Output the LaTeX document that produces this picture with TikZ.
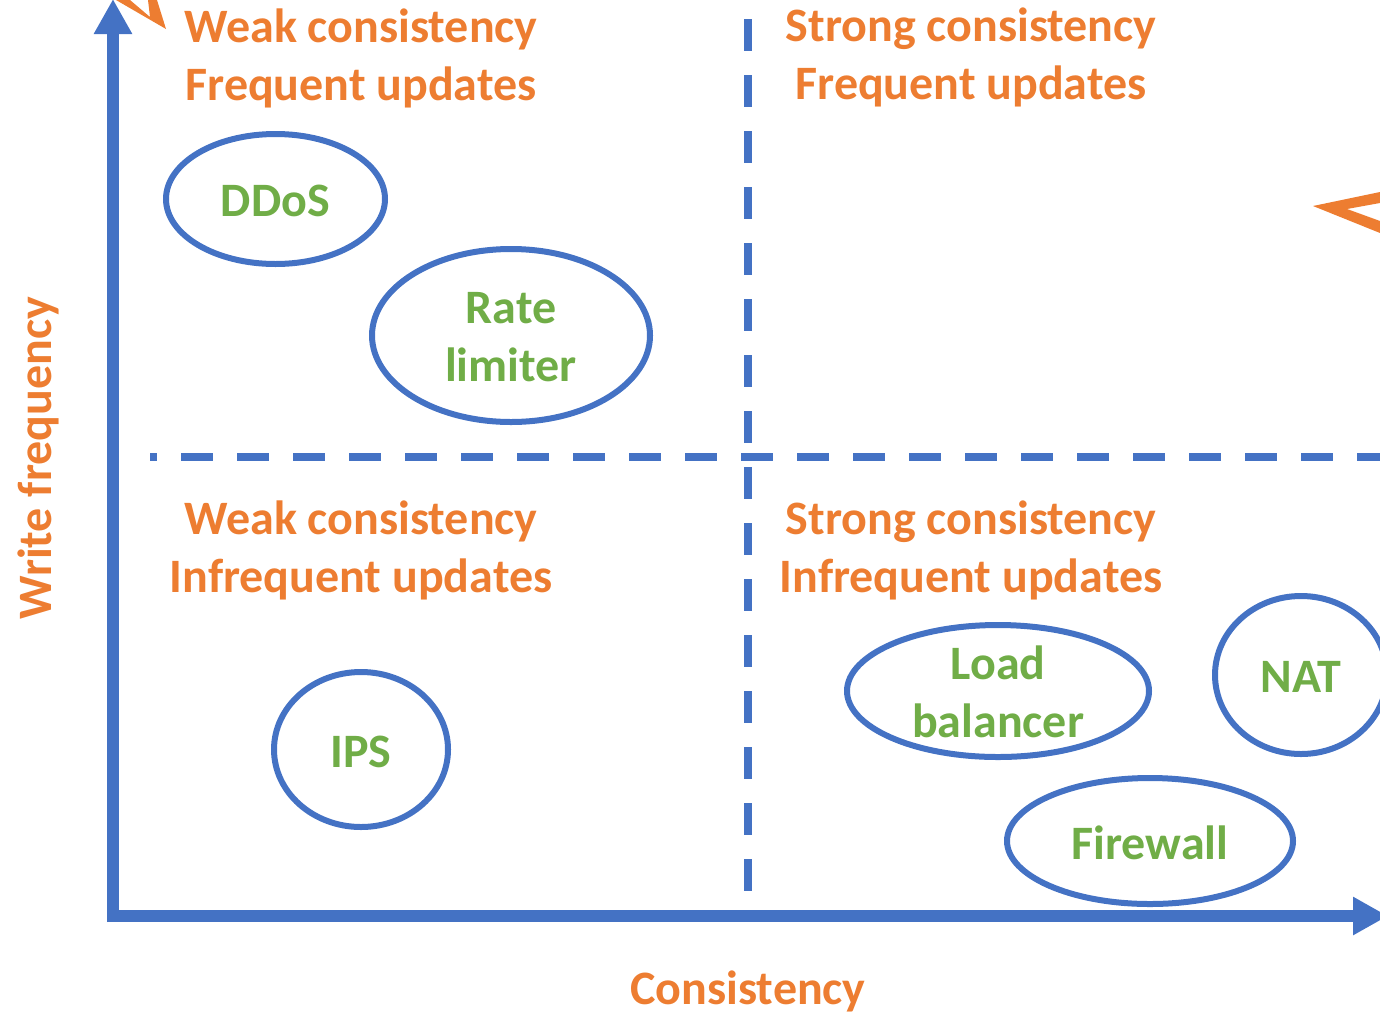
\documentclass[tikz,border=0pt]{standalone}
\usepackage{fontspec}
\setmainfont{Carlito}
\usetikzlibrary{arrows.meta,shapes.geometric}
\definecolor{axisblue}{HTML}{4472C4}
\definecolor{tagorange}{HTML}{ED7D31}
\definecolor{itemgreen}{HTML}{70AD47}

\begin{document}
\begin{tikzpicture}[x=1pt,y=-1pt,
  bigfont/.style={font=\bfseries\fontsize{48}{58}\selectfont},
  quadtitle/.style={bigfont, text=tagorange, anchor=base, inner sep=0pt},
  item/.style={draw=axisblue, line width=6pt, ellipse, inner sep=0pt},
  itemlabel/.style={bigfont, text=itemgreen, align=center, inner sep=0pt},
  divider/.style={draw=axisblue, line width=7.5pt, dash pattern=on 32pt off 24pt},
  axisline/.style={draw=axisblue, line width=12pt, -{Triangle[length=35pt,width=36pt]}},
  chevron/.style={fill=tagorange, draw=none}]

\useasboundingbox (0,0) rectangle (1380,1015);

% quadrant dividers
\coordinate (vtop) at (748,19);
\coordinate (vbot) at (748,891);
\coordinate (hleft) at (150,457);
\coordinate (hright) at (1400,457);
\draw[divider] (vtop) -- (vbot);
\draw[divider, dash phase=25pt] (hleft) -- (hright);

% axes
\coordinate (yfoot) at (113,922);
\coordinate (ytop) at (113,-1);
\coordinate (xstart) at (107,916);
\coordinate (xend) at (1388,916);
\draw[axisline] (yfoot) -- (ytop);
\draw[axisline] (xstart) -- (xend);

% axis titles
\node[quadtitle] (xtitle) at (748,1004) {Consistency};
\node[quadtitle, rotate=90] (ytitle) at (51,458) {Write frequency};

% quadrant titles
\node[quadtitle] (q1a) at (361,42) {Weak consistency};
\node[quadtitle] (q1b) at (361,100) {Frequent updates};
\node[quadtitle] (q2a) at (971,41) {Strong consistency};
\node[quadtitle] (q2b) at (971,99) {Frequent updates};
\node[quadtitle] (q3a) at (361,534) {Weak consistency};
\node[quadtitle] (q3b) at (361,592) {Infrequent updates};
\node[quadtitle] (q4a) at (971,534) {Strong consistency};
\node[quadtitle] (q4b) at (971,592) {Infrequent updates};

% network functions
\node[item, minimum width=219pt, minimum height=130pt] (ddos) at (275.5,199) {};
\node[item, minimum width=278pt, minimum height=173pt] (rate) at (511,335.5) {};
\node[item, minimum width=174pt, minimum height=155pt] (ips) at (361,749.5) {};
\node[item, minimum width=302pt, minimum height=132pt] (lb) at (998,691) {};
\node[item, minimum width=172pt, minimum height=158pt] (nat) at (1301,675) {};
\node[item, minimum width=286pt, minimum height=126pt] (fw) at (1150,841) {};

\node[itemlabel] (ddosl) at ([yshift=-2pt]ddos) {DDoS};
\node[itemlabel] (ratel) at ([yshift=-2pt]rate) {Rate\\limiter};
\node[itemlabel] (ipsl) at ([yshift=-2pt]ips) {IPS};
\node[itemlabel] (lbl) at ([yshift=-1pt]lb) {Load\\balancer};
\node[itemlabel] (natl) at ([yshift=-2pt]nat) {NAT};
\node[itemlabel] (fwl) at ([yshift=-2pt]fw) {Firewall};

% orange arrow tips reaching in from the edges
\fill[chevron] (116,0) -- (166,29) -- (157,0) -- (148,0) -- (150,17) -- (130,0) -- cycle;
\fill[chevron] (1313,206) -- (1380,192) -- (1380,203) -- (1347,209) -- (1380,221) -- (1380,233) -- cycle;
\end{tikzpicture}
\end{document}
